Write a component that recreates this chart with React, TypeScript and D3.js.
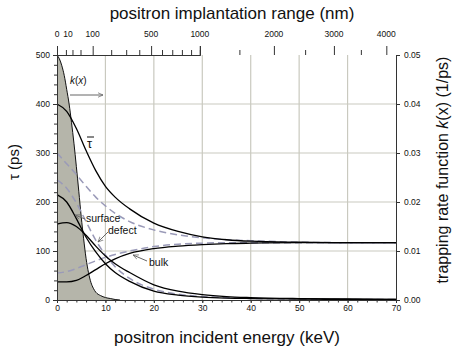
import React, { useEffect, useRef } from "react";
import * as d3 from "d3";

// energies (keV) where the lifetime curves were read
const energy = [0, 2, 4, 6, 8, 10, 12, 15, 20, 25, 30, 35, 40, 50, 60, 70];
// solid curves (ps)
const tauMean = [400, 385, 350, 305, 264, 232, 210, 186, 157, 140, 129, 123, 120, 118, 117, 117];
const tauSurface = [215, 200, 166, 128, 98, 74, 56, 38, 18, 10, 6, 4, 3, 2, 1, 1];
const tauDefect = [155, 158, 150, 132, 110, 90, 74, 56, 31, 18, 11, 7, 5, 3, 2, 1];
const tauBulk = [37, 37, 40, 50, 62, 74, 84, 95, 105, 110, 113, 115, 116, 117, 117, 117];
// dashed curves (ps)
const tauMeanD = [300, 278, 256, 232, 210, 192, 177, 160, 143, 133, 127, 123, 121, 118, 117, 117];
const tauSurfaceD = [245, 228, 198, 160, 122, 92, 68, 44, 22, 12, 7, 5, 3, 2, 1, 1];
const tauBulkD = [55, 58, 64, 72, 80, 87, 93, 100, 109, 114, 116, 117, 117, 117, 117, 117];

// trapping rate function k(x) (1/ps), grey area
const kEnergy = [0, 0.5, 1, 1.5, 2, 2.5, 3, 3.5, 4, 4.5, 5, 5.5, 6, 6.5, 7, 7.5, 8, 9, 10, 11, 12, 13];
const kRate = [0.05, 0.0492, 0.0478, 0.0458, 0.043, 0.04, 0.0362, 0.032, 0.0272, 0.0222, 0.017, 0.0125,
  0.0085, 0.0056, 0.0036, 0.0024, 0.0016, 0.0009, 0.0005, 0.0003, 0.0001, 0];

// top axis (implantation range, nm)
const rangeMajor = [0, 100, 500, 1000, 2000, 3000, 4000];
const rangeMinor = [10, 25, 50, 200, 300, 400, 600, 700, 800, 900, 1500, 2500, 3500];
const rangeLabels = [0, 10, 100, 500, 1000, 2000, 3000, 4000];

const W = 452;
const H = 348;
const font = "'Liberation Sans', Arial, sans-serif";

export default function App() {
  const svgRef = useRef<SVGSVGElement>(null);

  useEffect(() => {
    const svg = d3.select(svgRef.current);
    svg.selectAll("*").remove();

    const x = d3.scaleLinear().domain([0, 70]).range([57, 396]);
    const y = d3.scaleLinear().domain([0, 500]).range([300, 55]);
    const yR = d3.scaleLinear().domain([0, 0.05]).range([300, 55]);
    // range ~ E^1.66  ->  E ~ range^(1/1.66)
    const xTop = d3.scalePow().exponent(1 / 1.66).domain([0, 1000]).range([x(0), x(29.5)]);

    const grid = "#c9c9bf";
    // grid
    svg.append("g")
      .selectAll("line")
      .data([10, 20, 30, 40, 50, 60])
      .join("line")
      .attr("x1", (d) => x(d)).attr("x2", (d) => x(d))
      .attr("y1", y(0)).attr("y2", y(500))
      .attr("stroke", grid).attr("stroke-width", 1.2);
    svg.append("g")
      .selectAll("line")
      .data([100, 200, 300, 400])
      .join("line")
      .attr("x1", x(0)).attr("x2", x(70))
      .attr("y1", (d) => y(d)).attr("y2", (d) => y(d))
      .attr("stroke", grid).attr("stroke-width", 1.2);

    // k(x) area
    const kPts = kEnergy.map((e, i) => [e, kRate[i]] as [number, number]);
    const kArea = d3.area<[number, number]>()
      .x((d) => x(d[0]))
      .y0(yR(0))
      .y1((d) => yR(d[1]))
      .curve(d3.curveMonotoneX);
    const kLine = d3.line<[number, number]>()
      .x((d) => x(d[0]))
      .y((d) => yR(d[1]))
      .curve(d3.curveMonotoneX);
    svg.append("path").attr("d", kArea(kPts)).attr("fill", "#b5b5aa");
    svg.append("path").attr("d", kLine(kPts))
      .attr("fill", "none").attr("stroke", "#111").attr("stroke-width", 1);

    const line = d3.line<number>()
      .x((_, i) => x(energy[i]))
      .y((d) => y(d))
      .curve(d3.curveMonotoneX);

    const dashed = [tauMeanD, tauSurfaceD, tauBulkD];
    svg.append("g")
      .selectAll("path")
      .data(dashed)
      .join("path")
      .attr("d", (d) => line(d))
      .attr("fill", "none")
      .attr("stroke", "#9a9ab8")
      .attr("stroke-width", 1.5)
      .attr("stroke-dasharray", "7,4");

    const solid = [tauMean, tauSurface, tauDefect, tauBulk];
    svg.append("g")
      .selectAll("path")
      .data(solid)
      .join("path")
      .attr("d", (d) => line(d))
      .attr("fill", "none")
      .attr("stroke", "#000")
      .attr("stroke-width", 1.3);

    // axes
    const styleAxis = (g: any) => {
      g.select(".domain").attr("stroke", "#333");
      g.selectAll(".tick line").attr("stroke", "#333");
      g.selectAll("text").attr("font-family", font).attr("font-size", 8.5).attr("fill", "#111");
    };

    svg.append("g")
      .attr("transform", `translate(0,${y(0)})`)
      .call(d3.axisBottom(x).tickValues(d3.range(0, 71, 2)).tickSize(2.5).tickFormat(() => ""))
      .call(styleAxis);
    svg.append("g")
      .attr("transform", `translate(0,${y(0)})`)
      .call(d3.axisBottom(x).tickValues(d3.range(0, 71, 10)).tickSize(3).tickPadding(2).tickFormat(d3.format("d")))
      .call(styleAxis);

    svg.append("g")
      .attr("transform", `translate(${x(0)},0)`)
      .call(d3.axisLeft(y).tickValues(d3.range(0, 501, 20)).tickSize(3).tickFormat(() => ""))
      .call(styleAxis);
    svg.append("g")
      .attr("transform", `translate(${x(0)},0)`)
      .call(d3.axisLeft(y).tickValues(d3.range(0, 501, 100)).tickSize(4).tickPadding(3).tickFormat(d3.format("d")))
      .call(styleAxis);

    svg.append("g")
      .attr("transform", `translate(${x(70)},0)`)
      .call(d3.axisRight(yR).tickValues(d3.range(0, 0.051, 0.01)).tickSize(4).tickPadding(4).tickFormat(d3.format(".2f")))
      .call(styleAxis);

    svg.append("g")
      .attr("transform", `translate(0,${y(500)})`)
      .call(d3.axisTop(xTop).tickValues(rangeMinor).tickSize(5).tickFormat(() => ""))
      .call(styleAxis);
    svg.append("g")
      .attr("transform", `translate(0,${y(500)})`)
      .call(d3.axisTop(xTop).tickValues(rangeMajor).tickSize(9).tickFormat(() => ""))
      .call(styleAxis);
    svg.append("g")
      .selectAll("text")
      .data(rangeLabels)
      .join("text")
      .attr("x", (d) => xTop(d) + (d === 10 ? 2 : 0))
      .attr("y", 37)
      .attr("text-anchor", "middle")
      .attr("font-family", font)
      .attr("font-size", 8.5)
      .attr("fill", "#111")
      .text((d) => String(d));

    // titles
    const title = (txt: string, tx: number, ty: number, rot = 0, size = 17) =>
      svg.append("text")
        .attr("transform", `translate(${tx},${ty}) rotate(${rot})`)
        .attr("text-anchor", "middle")
        .attr("font-family", font)
        .attr("font-size", size)
        .attr("fill", "#111")
        .text(txt);
    title("positron implantation range (nm)", 232, 19);
    title("positron incident energy (keV)", 227, 343);
    title("τ (ps)", 19, 162, -90, 15);
    const rt = svg.append("text")
      .attr("transform", `translate(448,170) rotate(-90)`)
      .attr("text-anchor", "middle")
      .attr("font-family", font)
      .attr("font-size", 16)
      .attr("fill", "#111");
    rt.append("tspan").text("trapping rate function ");
    rt.append("tspan").attr("font-style", "italic").text("k");
    rt.append("tspan").text("(x) (1/ps)");

    // annotations
    const ann = (txt: string, tx: number, ty: number) =>
      svg.append("text").attr("x", tx).attr("y", ty)
        .attr("font-family", font).attr("font-size", 10.5).attr("fill", "#111").text(txt);
    ann("surface", 86, 222);
    ann("defect", 108, 234);
    ann("bulk", 149, 266);

    const kt = svg.append("text").attr("x", 70).attr("y", 84)
      .attr("font-family", font).attr("font-size", 10).attr("fill", "#111");
    kt.append("tspan").attr("font-style", "italic").text("k");
    kt.append("tspan").text("(");
    kt.append("tspan").attr("font-style", "italic").text("x");
    kt.append("tspan").text(")");

    svg.append("text").attr("x", 87).attr("y", 148)
      .attr("font-family", font).attr("font-size", 13).attr("fill", "#111").text("τ");
    svg.append("line").attr("x1", 87).attr("x2", 94).attr("y1", 137).attr("y2", 137)
      .attr("stroke", "#111").attr("stroke-width", 1);

    const defs = svg.append("defs");
    defs.append("marker")
      .attr("id", "ah")
      .attr("viewBox", "0 0 10 10")
      .attr("refX", 9).attr("refY", 5)
      .attr("markerWidth", 6).attr("markerHeight", 6)
      .attr("orient", "auto")
      .append("path").attr("d", "M0,1 L9,5 L0,9").attr("fill", "none").attr("stroke", "#666").attr("stroke-width", 1.2);

    const arrow = (x1: number, y1: number, x2: number, y2: number) =>
      svg.append("line").attr("x1", x1).attr("y1", y1).attr("x2", x2).attr("y2", y2)
        .attr("stroke", "#666").attr("stroke-width", 1).attr("marker-end", "url(#ah)");
    arrow(70, 95, 103, 95);
    arrow(85, 219, 75, 215);
    arrow(108, 232, 98, 242);
    arrow(147, 261, 133, 255);
  }, []);

  return (
    <div style={{ position: "absolute", left: 0, top: 0 }}>
      <svg ref={svgRef} width={W} height={H} style={{ background: "#fff", display: "block" }} />
    </div>
  );
}
